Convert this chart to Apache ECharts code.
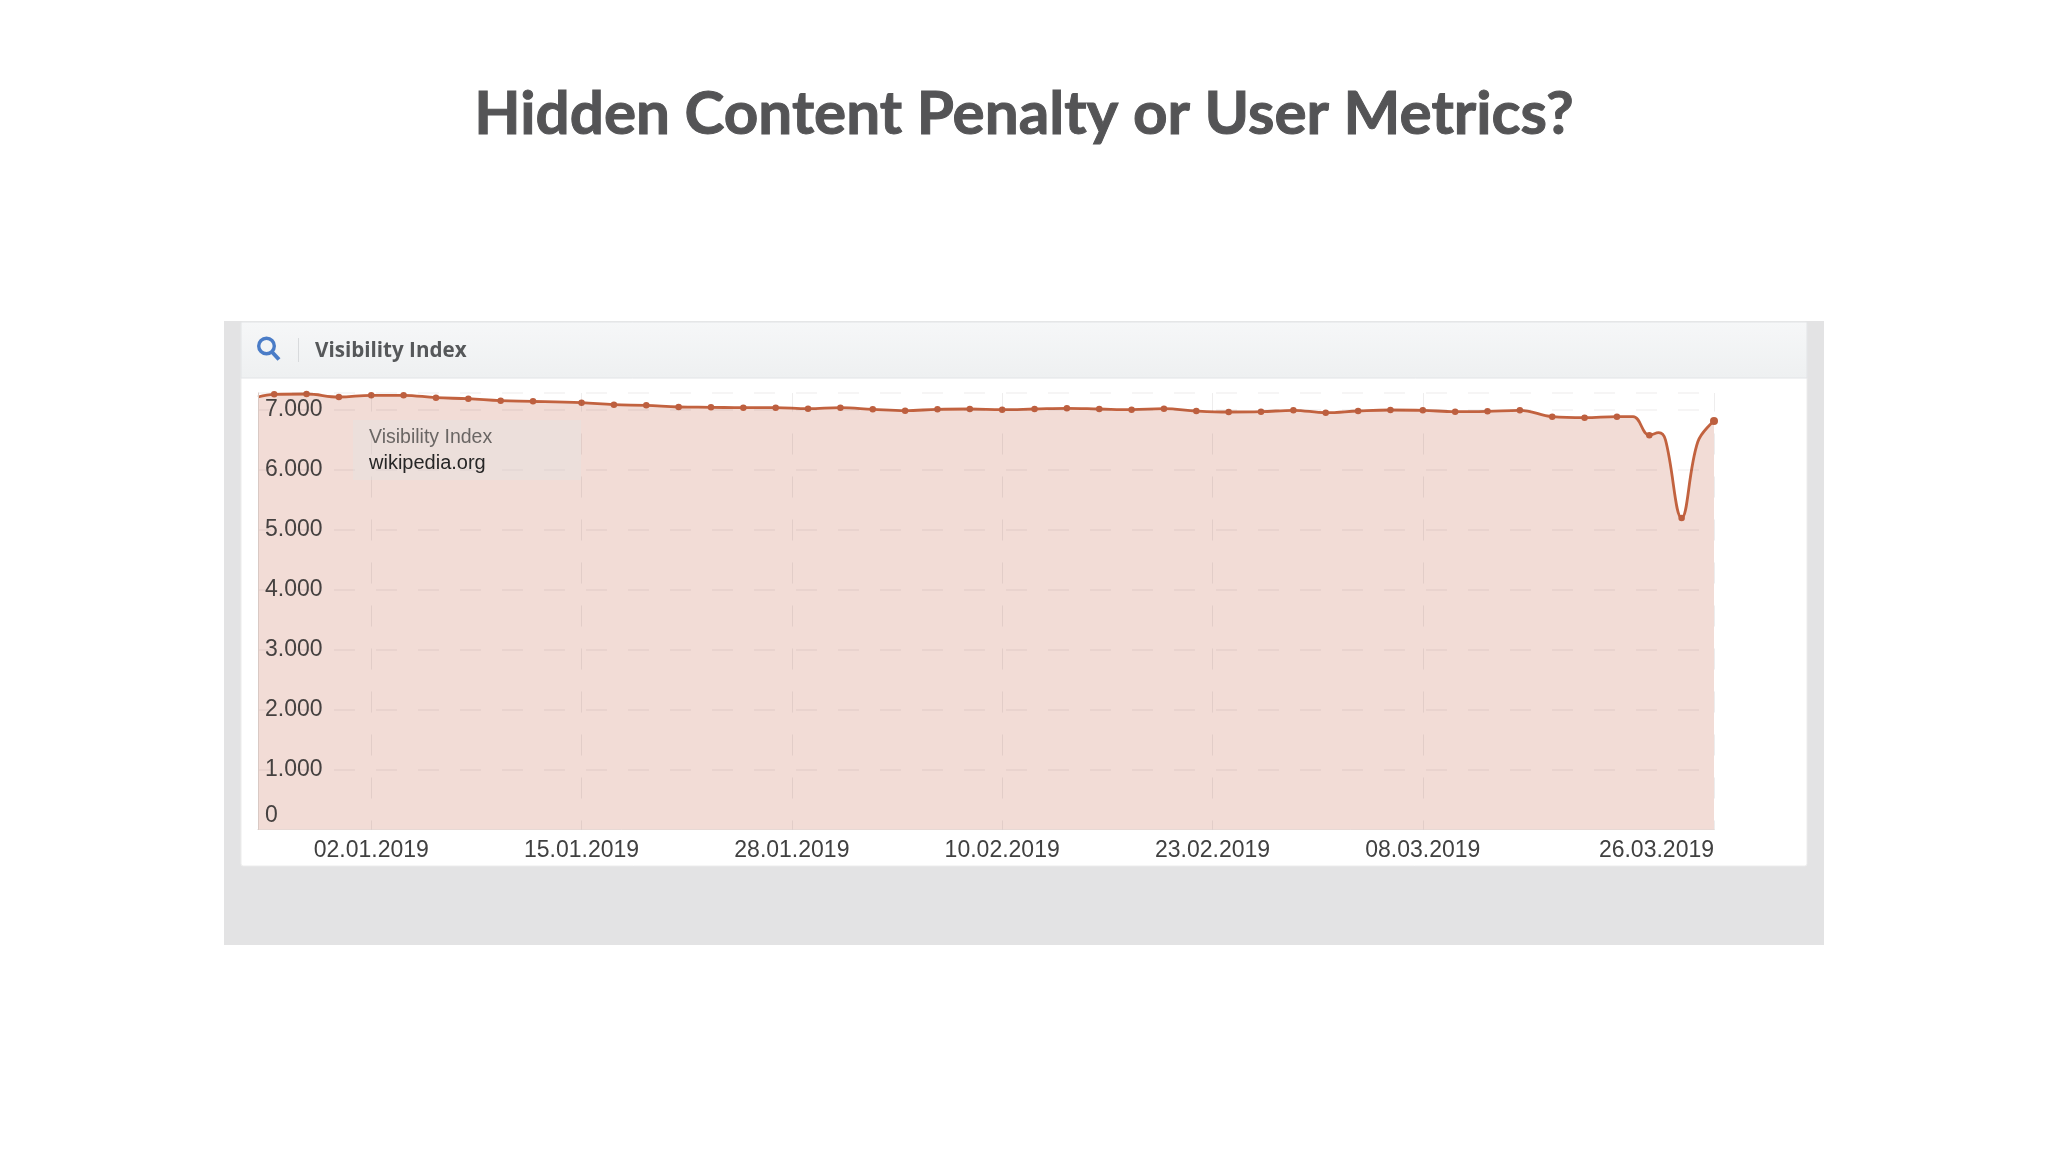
<!DOCTYPE html>
<html><head><meta charset="utf-8">
<style>html,body{margin:0;padding:0;background:#fff}#c{width:2048px;height:1152px}</style>
<script src="https://cdn.jsdelivr.net/npm/echarts@6/dist/echarts.min.js"></script>
</head><body><div id="c"></div>
<script>
const dates = ['2018-12-26','2018-12-27','2018-12-29','2018-12-31','2019-01-02','2019-01-04','2019-01-06','2019-01-08','2019-01-10','2019-01-12','2019-01-15','2019-01-17','2019-01-19','2019-01-21','2019-01-23','2019-01-25','2019-01-27','2019-01-29','2019-01-31','2019-02-02','2019-02-04','2019-02-06','2019-02-08','2019-02-10','2019-02-12','2019-02-14','2019-02-16','2019-02-18','2019-02-20','2019-02-22','2019-02-24','2019-02-26','2019-02-28','2019-03-02','2019-03-04','2019-03-06','2019-03-08','2019-03-10','2019-03-12','2019-03-14','2019-03-16','2019-03-18','2019-03-20','2019-03-21','2019-03-22','2019-03-22 14:00','2019-03-23','2019-03-24','2019-03-25','2019-03-26'];
const visibility = [7208,7253,7258,7208,7237,7237,7197,7180,7147,7137,7113,7080,7070,7042,7037,7030,7030,7013,7030,7003,6980,7003,7008,6997,7008,7020,7008,6997,7013,6975,6958,6963,6987,6947,6975,6992,6987,6963,6970,6987,6880,6863,6880,6880,6570,6613,6492,5192,6463,6808];
const unmarkedDates = ['2018-12-26','2019-03-21','2019-03-22 14:00','2019-03-23','2019-03-25'];
const tickDates = ['2019-01-02','2019-01-15','2019-01-28','2019-02-10','2019-02-23','2019-03-08','2019-03-26'];
const yTicks = [0,1000,2000,3000,4000,5000,6000,7000];
const titleText = 'Hidden Content Penalty or User Metrics?';
const headerText = 'Visibility Index';
const legendLines = ['Visibility Index','wikipedia.org'];

const parse = d => +echarts.time.parse(d);
const chart = echarts.init(document.getElementById('c'), null, {renderer:'canvas', width:2048, height:1152});
const AX = '"Liberation Sans", Arial, sans-serif';
chart.setOption({
  animation:false,
  backgroundColor:'#ffffff',
  title:{text:titleText,left:'center',top:85,padding:0,
    textStyle:{fontFamily:'Lato',fontSize:60.2,fontWeight:700,color:'#545456',textBorderColor:'#545456',textBorderWidth:1}},
  grid:{left:258,right:334,top:393,bottom:322.5,show:false},
  xAxis:{type:'value',min:parse(dates[0]),max:parse(dates[dates.length-1]),
    axisLine:{show:true,lineStyle:{color:'#dcd6d4',width:1}},
    axisTick:{show:false},splitLine:{show:false},
    axisLabel:{show:true,customValues:tickDates.map(parse),margin:10,fontFamily:AX,fontSize:23,color:'#404040',
      hideOverlap:false,alignMaxLabel:'right',
      formatter:v=>echarts.time.format(v,'{dd}.{MM}.{yyyy}',false)}},
  yAxis:{type:'value',min:0,max:7275,interval:1000,z:3,
    axisLine:{show:true,lineStyle:{color:'#d9c9c4',width:1}},axisTick:{show:false},
    splitLine:{show:true,showMinLine:false,lineStyle:{color:'rgba(90,80,80,0.075)',width:1.5,type:[21,21],dashOffset:8}},
    axisLabel:{inside:true,margin:7,fontFamily:AX,fontSize:23,color:'#454140',verticalAlignMinLabel:'bottom',padding:[0,0,2,0],
      customValues:yTicks,
      formatter:v=>String(v).replace(/\B(?=(\d{3})+$)/g,'.')}},
  series:[{type:'line',data:dates.map((d,i)=>[parse(d),visibility[i]]),smooth:0.4,clip:false,z:2,
    symbol:'circle',symbolSize:(v,p)=>unmarkedDates.includes(dates[p.dataIndex])?0:(p.dataIndex===dates.length-1?8:6.5),
    showSymbol:true,showAllSymbol:true,
    lineStyle:{color:'#c2623f',width:2.8},itemStyle:{color:'#bd5f3f'},
    areaStyle:{color:'#f2dcd6',opacity:1,origin:'start'},
    markLine:{silent:true,symbol:'none',label:{show:false},animation:false,
      lineStyle:{color:'rgba(90,80,80,0.1)',width:1,type:[21,22],dashOffset:12},
      data:tickDates.map(d=>({xAxis:parse(d)}))}
  }],
  graphic:{elements:[
    {type:'rect',z:-20,shape:{x:224,y:321,width:1600,height:624},style:{fill:'#e3e3e4'},silent:true},
    {type:'rect',z:-19,shape:{x:241,y:322,width:1566,height:544,r:2},style:{fill:'#ffffff',stroke:'#ececec',lineWidth:1},silent:true},
    {type:'rect',z:-18,shape:{x:241,y:322,width:1566,height:56},silent:true,
      style:{fill:new echarts.graphic.LinearGradient(0,0,0,1,[{offset:0,color:'#f6f7f8'},{offset:1,color:'#eef0f1'}]),stroke:'#e2e4e6',lineWidth:1}},
    {type:'circle',z:-17,shape:{cx:266.5,cy:346,r:7.8},style:{fill:'none',stroke:'#4a7cc7',lineWidth:3.4},silent:true},
    {type:'line',z:-17,shape:{x1:272,y1:352,x2:279,y2:359.5},style:{stroke:'#4a7cc7',lineWidth:4},silent:true},
    {type:'line',z:-17,shape:{x1:298.5,y1:338,x2:298.5,y2:362},style:{stroke:'#d8dadc',lineWidth:1},silent:true},
    {type:'text',z:-17,x:315,y:351,silent:true,style:{text:headerText,fontFamily:'"Open Sans"',fontWeight:700,fontSize:20.6,fill:'#56585a',verticalAlign:'middle'}},
    {type:'rect',z:10,shape:{x:353,y:420,width:228,height:60},style:{fill:'rgba(226,228,228,0.35)'},silent:true},
    {type:'text',z:11,x:369,y:438,silent:true,style:{text:legendLines[0],fontFamily:AX,fontSize:19.5,fill:'#6a6664',verticalAlign:'middle'}},
    {type:'text',z:11,x:369,y:463,silent:true,style:{text:legendLines[1],fontFamily:AX,fontSize:20,fill:'#262626',verticalAlign:'middle'}}
  ]}
});
</script></body></html>
